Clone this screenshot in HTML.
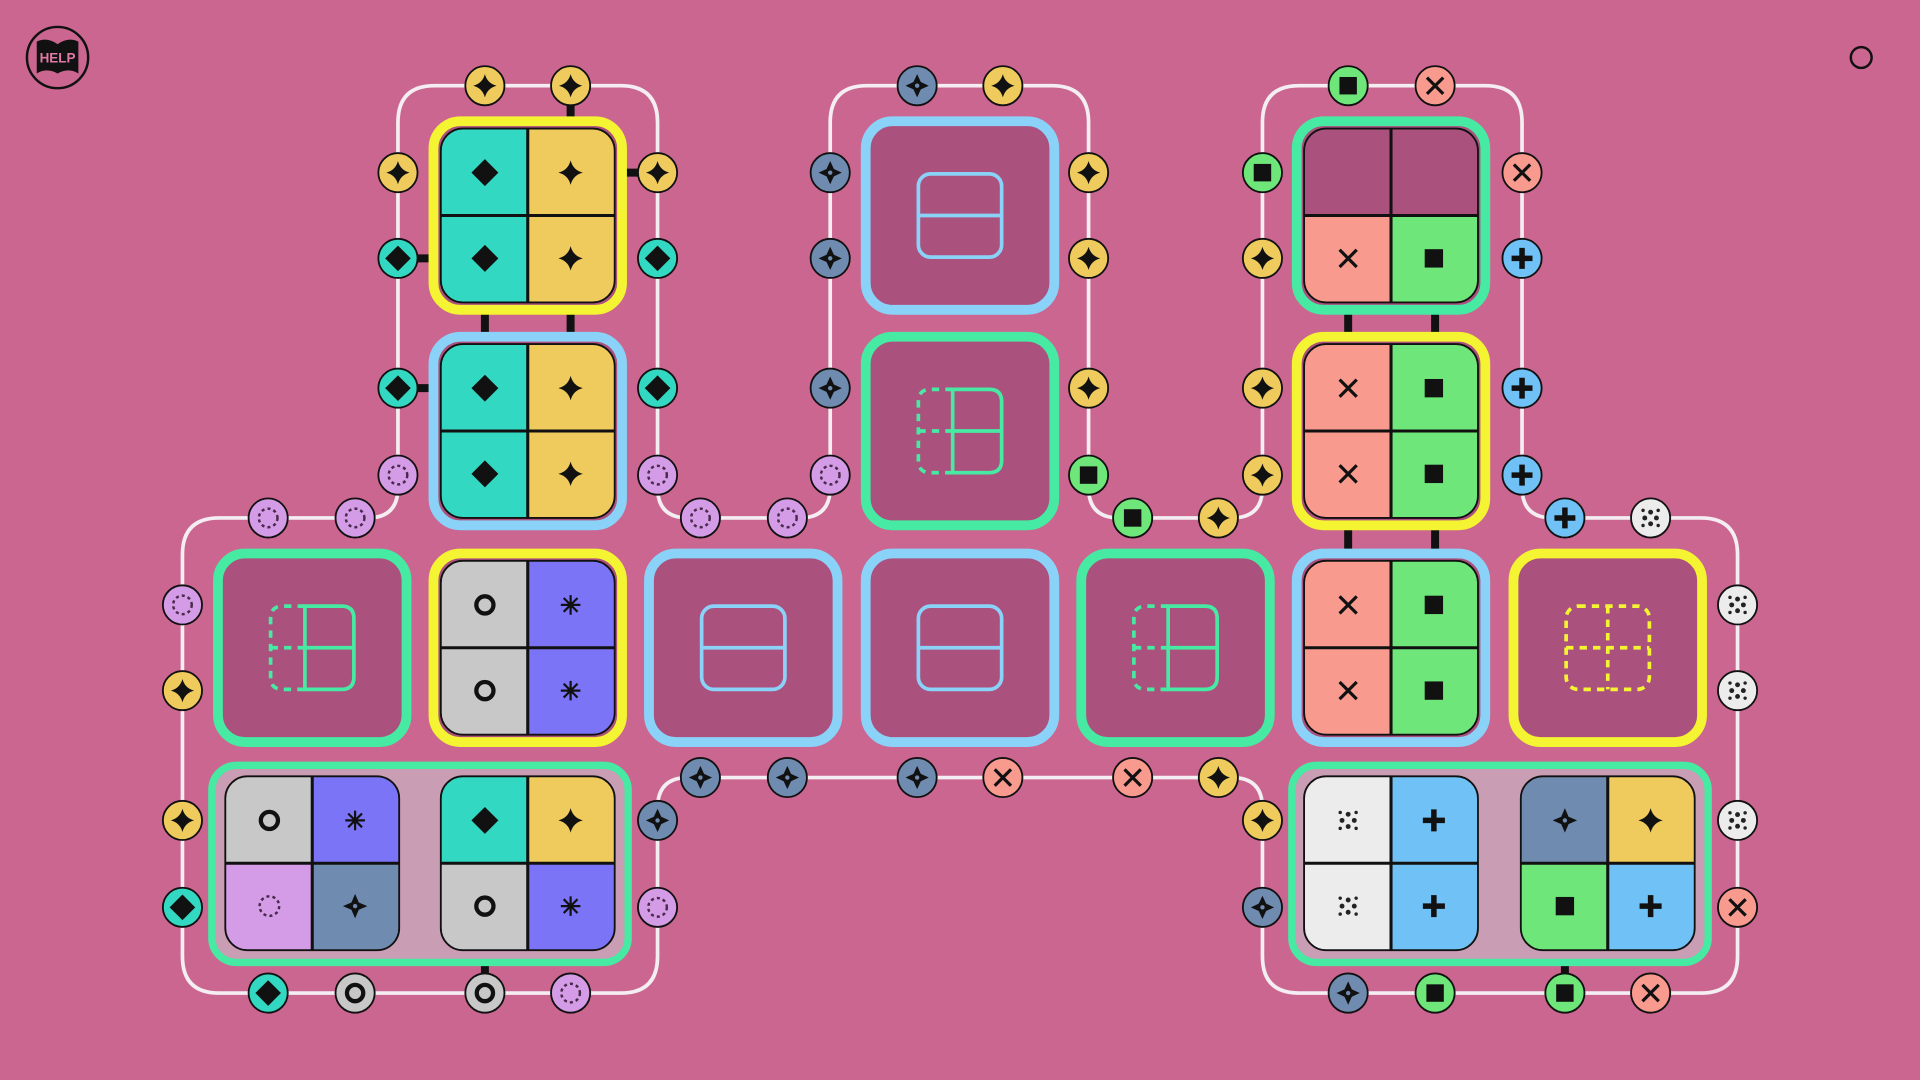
<!DOCTYPE html>
<html><head><meta charset="utf-8"><style>
html,body{margin:0;padding:0;background:#cb6690;width:1920px;height:1080px;overflow:hidden}
svg{display:block}
</style></head><body>
<svg id="s" width="1920" height="1080" viewBox="0 0 1568 882" xmlns="http://www.w3.org/2000/svg">
<rect width="1568" height="882" fill="#cb6690"/>
<circle cx="47" cy="47" r="25" fill="none" stroke="#111" stroke-width="2"/>
<path d="M30,34 Q38,30 47,36 Q56,30 64,34 L64,60 Q56,55 47,60 Q38,55 30,60 Z" fill="#111"/>
<text x="47" y="51" font-family="Liberation Sans, sans-serif" font-size="11" font-weight="bold" fill="#e07aa5" text-anchor="middle">HELP</text>
<circle cx="1520" cy="47" r="8.5" fill="none" stroke="#111" stroke-width="2"/>
<g id="g"></g>
</svg>
<script>
var C={star:'#eecb5c',diamond:'#33d8c2',x:'#f99a8f',sq:'#6ee67a',ring:'#c8c8c8',cross4:'#6f8cb0',plus:'#70c2f6',dotc:'#d49be6',wdots:'#ececec',burst:'#7c74f6',m:'#ab517d'};
var FR={y:'#f4f433',b:'#8ad2f8',g:'#46eaa2'};
function icon(t,x,y,k){k=k||1;var s='';
if(t=='star'){var a=10*k,b=2;s='<path d="M'+x+','+(y-a)+' Q'+(x+b)+','+(y-b)+' '+(x+a)+','+y+' Q'+(x+b)+','+(y+b)+' '+x+','+(y+a)+' Q'+(x-b)+','+(y+b)+' '+(x-a)+','+y+' Q'+(x-b)+','+(y-b)+' '+x+','+(y-a)+'Z" fill="#111"/>';}
else if(t=='diamond'){var a=11*k;s='<polygon points="'+x+','+(y-a)+' '+(x+a)+','+y+' '+x+','+(y+a)+' '+(x-a)+','+y+'" fill="#111"/>';}
else if(t=='x'){var a=7*k;s='<path d="M'+(x-a)+','+(y-a)+'L'+(x+a)+','+(y+a)+'M'+(x+a)+','+(y-a)+'L'+(x-a)+','+(y+a)+'" stroke="#111" stroke-width="2.6"/>';}
else if(t=='sq'){var a=7.5*k;s='<rect x="'+(x-a)+'" y="'+(y-a)+'" width="'+2*a+'" height="'+2*a+'" fill="#111"/>';}
else if(t=='ring'){s='<circle cx="'+x+'" cy="'+y+'" r="'+7*k+'" fill="none" stroke="#111" stroke-width="3.5"/>';}
else if(t=='plus'){var a=9*k;s='<path d="M'+(x-a)+','+y+'H'+(x+a)+'M'+x+','+(y-a)+'V'+(y+a)+'" stroke="#111" stroke-width="4.5"/>';}
else if(t=='cross4'){var a=10*k,w=3;s='<path d="M'+x+','+(y-a)+'L'+(x+w)+','+(y-w)+'L'+(x+a)+','+y+'L'+(x+w)+','+(y+w)+'L'+x+','+(y+a)+'L'+(x-w)+','+(y+w)+'L'+(x-a)+','+y+'L'+(x-w)+','+(y-w)+'Z" fill="#111"/><circle cx="'+x+'" cy="'+y+'" r="1.8" fill="'+C.cross4+'"/>';}
else if(t=='burst'){var a=8*k,p='';for(var i=0;i<8;i++){var an=i*Math.PI/4;p+='M'+x+','+y+'L'+(x+a*Math.cos(an))+','+(y+a*Math.sin(an));}s='<path d="'+p+'" stroke="#111" stroke-width="1.8"/><circle cx="'+x+'" cy="'+y+'" r="2.5" fill="#111"/>';}
else if(t=='dotc'){s='<circle cx="'+x+'" cy="'+y+'" r="'+8*k+'" fill="none" stroke="#4a2a4a" stroke-width="2" stroke-dasharray="2.5 2.5"/>';}
else if(t=='wdots'){var d=5*k,p='';[[-1,0],[1,0],[0,-1],[0,1]].forEach(function(q){p+='<circle cx="'+(x+q[0]*d)+'" cy="'+(y+q[1]*d)+'" r="2" fill="#222"/>';});[[-1,-1],[1,-1],[-1,1],[1,1]].forEach(function(q){p+='<circle cx="'+(x+q[0]*d*1.3)+'" cy="'+(y+q[1]*d*1.3)+'" r="1.4" fill="#222"/>';});s=p;}
return s;}
var out='';
out+='<path d="M149,781 L149,453 Q149,423 179,423 L300,423 Q325,423 325,398 L325,100 Q325,70 355,70 L507,70 Q537,70 537,100 L537,398 Q537,423 562,423 L653,423 Q678,423 678,398 L678,100 Q678,70 708,70 L859,70 Q889,70 889,100 L889,398 Q889,423 914,423 L1006,423 Q1031,423 1031,398 L1031,100 Q1031,70 1061,70 L1213,70 Q1243,70 1243,100 L1243,398 Q1243,423 1268,423 L1389,423 Q1419,423 1419,453 L1419,781 Q1419,811 1389,811 L1061,811 Q1031,811 1031,781 L1031,660 Q1031,635 1006,635 L562,635 Q537,635 537,660 L537,781 Q537,811 507,811 L179,811 Q149,811 149,781 Z" fill="none" stroke="#f4eef2" stroke-width="3"/>';
function bar(x1,y1,x2,y2){out+='<line x1="'+x1+'" y1="'+y1+'" x2="'+x2+'" y2="'+y2+'" stroke="#111" stroke-width="6.5"/>';}
bar(466,85,466,106);bar(500,141,522,141);bar(338,211,362,211);bar(338,317,362,317);
bar(396,245,396,285);bar(466,245,466,285);
bar(1101,245,1101,285);bar(1172,245,1172,285);bar(1101,420,1101,460);bar(1172,420,1172,460);
bar(396,772,396,797);bar(1278,772,1278,797);
function frame(cx,cy,f,fill){out+='<rect x="'+(cx-77)+'" y="'+(cy-77)+'" width="154" height="154" rx="22" fill="'+(fill||C.m)+'" stroke="'+FR[f]+'" stroke-width="8"/>';}
var qid=0;
function quad(cx,cy,t){qid++;var id='q'+qid;
out+='<clipPath id="'+id+'"><rect x="'+(cx-71)+'" y="'+(cy-71)+'" width="142" height="142" rx="18"/></clipPath><g clip-path="url(#'+id+')">';
var pos=[[-1,-1],[1,-1],[-1,1],[1,1]];
for(var i=0;i<4;i++){var x0=pos[i][0]<0?cx-71:cx,y0=pos[i][1]<0?cy-71:cy;out+='<rect x="'+x0+'" y="'+y0+'" width="71" height="71" fill="'+(t[i]=='m'?C.m:C[t[i]])+'"/>';}
out+='</g><path d="M'+cx+','+(cy-71)+'V'+(cy+71)+'M'+(cx-71)+','+cy+'H'+(cx+71)+'" stroke="#111" stroke-width="2.5"/>';
out+='<rect x="'+(cx-71)+'" y="'+(cy-71)+'" width="142" height="142" rx="18" fill="none" stroke="#111" stroke-width="1.5"/>';
for(var i=0;i<4;i++){if(t[i]!='m')out+=icon(t[i],cx+pos[i][0]*35,cy+pos[i][1]*35,1);}}
function ticon(cx,cy,kind,col){var x=cx-34,y=cy-34;
if(kind=='h'){out+='<rect x="'+x+'" y="'+y+'" width="68" height="68" rx="10" fill="none" stroke="'+col+'" stroke-width="3"/><line x1="'+x+'" y1="'+cy+'" x2="'+(x+68)+'" y2="'+cy+'" stroke="'+col+'" stroke-width="3"/>';}
else if(kind=='d'){out+='<path d="M'+(cx-6)+','+y+'H'+(x+58)+'Q'+(x+68)+','+y+' '+(x+68)+','+(y+10)+'V'+(y+58)+'Q'+(x+68)+','+(y+68)+' '+(x+58)+','+(y+68)+'H'+(cx-6)+'Z M'+(cx-6)+','+cy+'H'+(x+68)+'" fill="none" stroke="'+col+'" stroke-width="3"/><path d="M'+(cx-6)+','+y+'H'+(x+10)+'Q'+x+','+y+' '+x+','+(y+10)+'V'+(y+58)+'Q'+x+','+(y+68)+' '+(x+10)+','+(y+68)+'H'+(cx-6)+'M'+x+','+cy+'H'+(cx-6)+'" fill="none" stroke="'+col+'" stroke-width="3" stroke-dasharray="6 5"/>';}
else{out+='<rect x="'+x+'" y="'+y+'" width="68" height="68" rx="10" fill="none" stroke="'+col+'" stroke-width="3" stroke-dasharray="6 5"/><path d="M'+cx+','+y+'V'+(y+68)+'M'+x+','+cy+'H'+(x+68)+'" stroke="'+col+'" stroke-width="3" stroke-dasharray="6 5"/>';}}
frame(431,176,'y');quad(431,176,['diamond','star','diamond','star']);
frame(431,352,'b');quad(431,352,['diamond','star','diamond','star']);
frame(784,176,'b');ticon(784,176,'h','#8ad2f8');
frame(784,352,'g');ticon(784,352,'d','#46eaa2');
frame(1136,176,'g');quad(1136,176,['m','m','x','sq']);
frame(1136,352,'y');quad(1136,352,['x','sq','x','sq']);
frame(255,529,'g');ticon(255,529,'d','#46eaa2');
frame(431,529,'y');quad(431,529,['ring','burst','ring','burst']);
frame(607,529,'b');ticon(607,529,'h','#8ad2f8');
frame(784,529,'b');ticon(784,529,'h','#8ad2f8');
frame(960,529,'g');ticon(960,529,'d','#46eaa2');
frame(1136,529,'b');quad(1136,529,['x','sq','x','sq']);
frame(1313,529,'y');ticon(1313,529,'q','#f4f433');
out+='<rect x="173" y="625" width="340" height="161" rx="20" fill="#c99db3" stroke="#46eaa2" stroke-width="6"/>';
quad(255,705,['ring','burst','dotc','cross4']);quad(431,705,['diamond','star','ring','burst']);
out+='<rect x="1055" y="625" width="340" height="161" rx="20" fill="#c99db3" stroke="#46eaa2" stroke-width="6"/>';
quad(1136,705,['wdots','plus','wdots','plus']);quad(1313,705,['cross4','star','sq','plus']);
var T=[[396,70,'star'],[466,70,'star'],[325,141,'star'],[537,141,'star'],[325,211,'diamond'],[537,211,'diamond'],[325,317,'diamond'],[537,317,'diamond'],[325,388,'dotc'],[537,388,'dotc'],[219,423,'dotc'],[290,423,'dotc'],[572,423,'dotc'],[643,423,'dotc'],[678,388,'dotc'],[678,317,'cross4'],[678,211,'cross4'],[678,141,'cross4'],[749,70,'cross4'],[819,70,'star'],[889,141,'star'],[889,211,'star'],[889,317,'star'],[889,388,'sq'],[925,423,'sq'],[995,423,'star'],[1031,388,'star'],[1031,317,'star'],[1031,211,'star'],[1031,141,'sq'],[1101,70,'sq'],[1172,70,'x'],[1243,141,'x'],[1243,211,'plus'],[1243,317,'plus'],[1243,388,'plus'],[1278,423,'plus'],[1348,423,'wdots'],[1419,494,'wdots'],[1419,564,'wdots'],[1419,670,'wdots'],[1419,741,'x'],[1348,811,'x'],[1278,811,'sq'],[1172,811,'sq'],[1101,811,'cross4'],[1031,741,'cross4'],[1031,670,'star'],[995,635,'star'],[925,635,'x'],[819,635,'x'],[749,635,'cross4'],[643,635,'cross4'],[572,635,'cross4'],[537,670,'cross4'],[537,741,'dotc'],[466,811,'dotc'],[396,811,'ring'],[290,811,'ring'],[219,811,'diamond'],[149,741,'diamond'],[149,670,'star'],[149,564,'star'],[149,494,'dotc']];
T.forEach(function(t){out+='<circle cx="'+t[0]+'" cy="'+t[1]+'" r="16" fill="'+C[t[2]]+'" stroke="#111" stroke-width="1.5"/>'+icon(t[2],t[0],t[1],0.95);});
document.getElementById('g').innerHTML=out;
</script>
</body></html>
